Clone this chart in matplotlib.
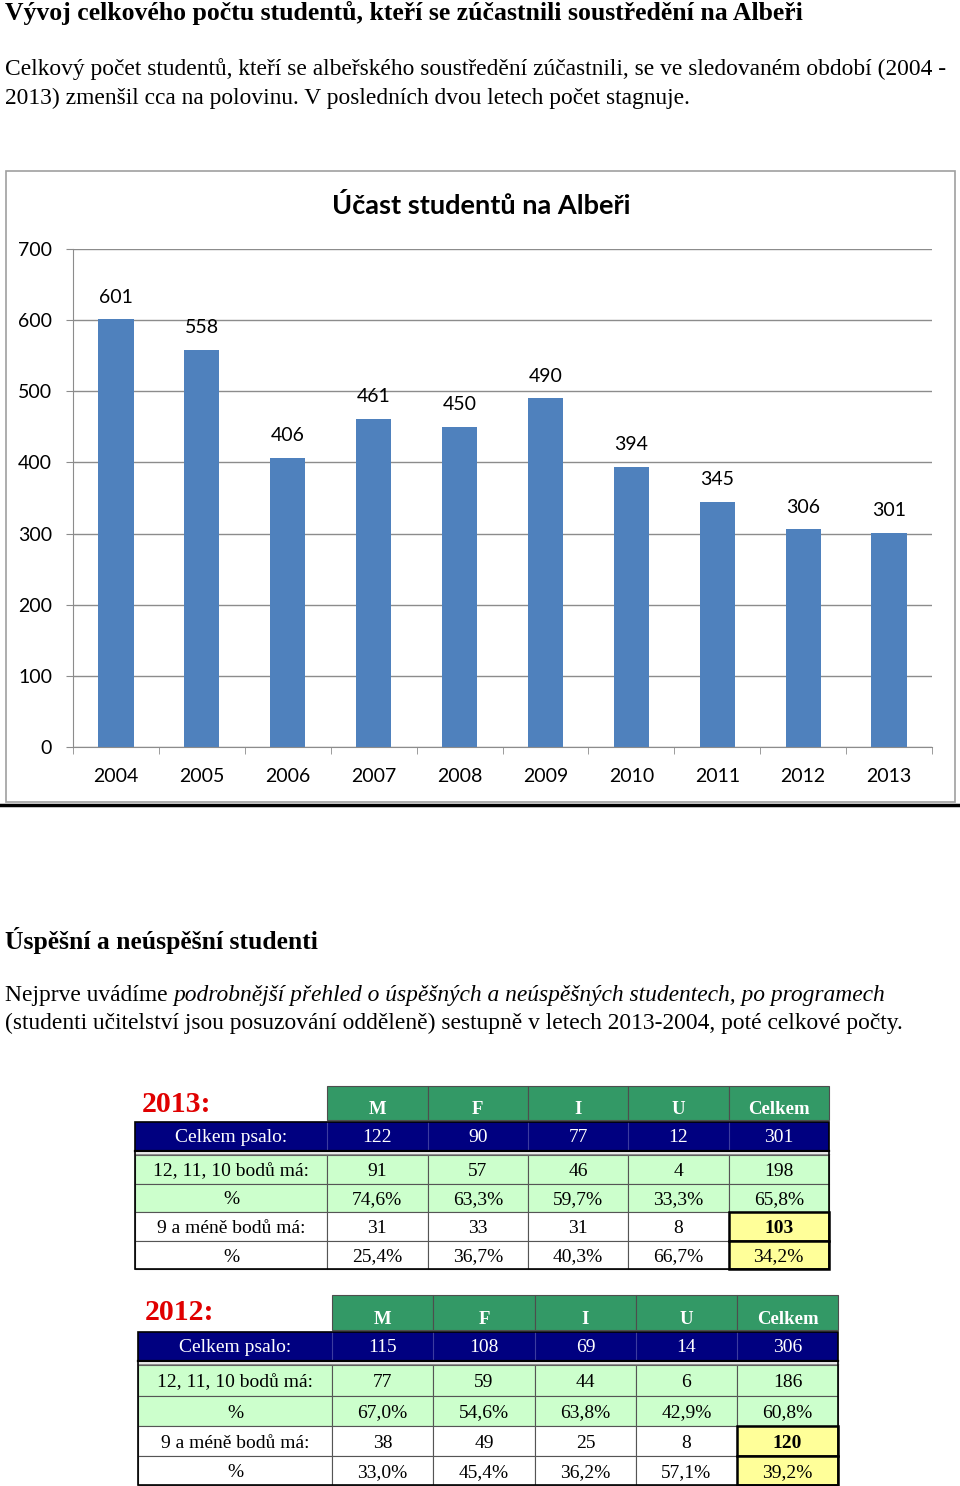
import matplotlib
matplotlib.use('Agg')
import matplotlib.pyplot as plt
from matplotlib.patches import Rectangle

W, H = 960, 1486
SERIF = ['Liberation Serif', 'DejaVu Serif']
SANS = ['Lato', 'Open Sans', 'DejaVu Sans']

BAR_BLUE = '#4F81BD'
GRID_GREY = '#8C8C8C'
HEAD_GREEN = '#339966'
NAVY = '#000080'
LIGHT_GREEN = '#CCFFCC'
YELLOW = '#FFFF99'
RED = '#E00000'

# ── Data ──────────────────────────────────────────────────────────────────────
years = [2004, 2005, 2006, 2007, 2008, 2009, 2010, 2011, 2012, 2013]
students = [601, 558, 406, 461, 450, 490, 394, 345, 306, 301]

programs = ['M', 'F', 'I', 'U', 'Celkem']
row_labels = ['Celkem psalo:', '12, 11, 10 bodů má:', '%', '9 a méně bodů má:', '%']

total_2013 = [122, 90, 77, 12, 301]
pass_2013 = [91, 57, 46, 4, 198]
pass_pct_2013 = [74.6, 63.3, 59.7, 33.3, 65.8]
fail_2013 = [31, 33, 31, 8, 103]
fail_pct_2013 = [25.4, 36.7, 40.3, 66.7, 34.2]

total_2012 = [115, 108, 69, 14, 306]
pass_2012 = [77, 59, 44, 6, 186]
pass_pct_2012 = [67.0, 54.6, 63.8, 42.9, 60.8]
fail_2012 = [38, 49, 25, 8, 120]
fail_pct_2012 = [33.0, 45.4, 36.2, 57.1, 39.2]

fig = plt.figure(figsize=(W / 100, H / 100), dpi=100)
bg = fig.add_axes([0, 0, 1, 1])
bg.set_xlim(0, W)
bg.set_ylim(H, 0)
bg.axis('off')
renderer = fig.canvas.get_renderer()


def fitted_text(x, y, s, width, **kw):
    """Draw text starting at x and scale its size so it is `width` px wide."""
    t = bg.text(x, y, s, fontsize=12, va='center', ha='left', **kw)
    w = t.get_window_extent(renderer=renderer).width
    t.set_fontsize(12 * width / w)
    return t


def pct(v):
    return f'{v:.1f}%'.replace('.', ',')


# ── Page text ────────────────────────────────────────────────────────────────
fitted_text(5, 13, 'Vývoj celkového počtu studentů, kteří se zúčastnili soustředění na Albeři',
            795, family=SERIF, weight='bold')
t1 = fitted_text(5, 69, 'Celkový počet studentů, kteří se albeřského soustředění zúčastnili, '
                        'se ve sledovaném období (2004 -', 942, family=SERIF)
bg.text(5, 98, '2013) zmenšil cca na polovinu. V posledních dvou letech počet stagnuje.',
        fontsize=t1.get_fontsize(), va='center', family=SERIF)

fitted_text(5, 941, 'Úspěšní a neúspěšní studenti', 311, family=SERIF, weight='bold')
t2 = fitted_text(5, 1023, '(studenti učitelství jsou posuzování odděleně) sestupně v letech '
                          '2013-2004, poté celkové počty.', 898, family=SERIF)
fs = t2.get_fontsize()
t3 = bg.text(5, 995, 'Nejprve uvádíme ', fontsize=fs, va='center', family=SERIF)
w3 = t3.get_window_extent(renderer=renderer).width
bg.text(5 + w3, 995, 'podrobnější přehled o úspěšných a neúspěšných studentech, po programech',
        fontsize=fs, va='center', family=SERIF, style='italic')

# ── Chart ────────────────────────────────────────────────────────────────────
bg.add_patch(Rectangle((6, 171), 949, 631, fill=False, edgecolor='#A0A0A0', lw=1.2))
bg.plot([0, W], [805, 805], color='black', lw=2.5)
bg.text(481, 206, 'Účast studentů na Albeři', ha='center', va='center',
        fontsize=19.5, weight='bold', family=SANS)

ax = fig.add_axes([73 / W, 1 - 747 / H, 859 / W, 498 / H])
x = list(range(len(years)))
ax.bar(x, students, width=0.41, color=BAR_BLUE, zorder=2)
ax.set_xlim(-0.5, len(years) - 0.5)
ax.set_ylim(0, 700)
ax.set_yticks(range(0, 701, 100))
ax.yaxis.grid(True, color=GRID_GREY, lw=1)
ax.set_axisbelow(True)
for s in ['top', 'right']:
    ax.spines[s].set_visible(False)
for s in ['left', 'bottom']:
    ax.spines[s].set_color(GRID_GREY)
ax.set_xticks(x)
ax.set_xticklabels([str(y) for y in years], family=SANS, fontsize=14)
ax.set_xticks([i - 0.5 for i in range(len(years) + 1)], minor=True)
ax.tick_params(axis='x', which='major', length=0, pad=15)
ax.tick_params(axis='x', which='minor', length=5, color=GRID_GREY)
ax.tick_params(axis='y', length=5, color=GRID_GREY, pad=10)
for lab in ax.get_yticklabels():
    lab.set_family(SANS)
    lab.set_fontsize(14)
for xi, v in zip(x, students):
    ax.annotate(str(v), (xi, v), xytext=(0, 16), textcoords='offset points',
                ha='center', va='center', fontsize=14, family=SANS)


# ── Tables ───────────────────────────────────────────────────────────────────
def draw_table(year, label_left, col_edges, head, blue, rows, data):
    total, passed, pass_pct, failed, fail_pct = data
    right = col_edges[-1]
    label_mid = (label_left + col_edges[0]) / 2
    fsz = 14

    bg.text(label_left + 7, head[0] + 18, f'{year}:', color=RED, fontsize=21.5,
            weight='bold', family=SERIF, va='center')

    # header row
    for i, name in enumerate(programs):
        x0, x1 = col_edges[i], col_edges[i + 1]
        bg.add_patch(Rectangle((x0, head[0]), x1 - x0, head[1] - head[0],
                               facecolor=HEAD_GREEN, edgecolor='#4D4D4D', lw=0.8))
        bg.text((x0 + x1) / 2, head[1] - 10, name, color='white', fontsize=13.5,
                weight='bold', family=SERIF, ha='center', va='center')

    # navy "Celkem psalo" row
    bg.add_patch(Rectangle((label_left, blue[0]), right - label_left, blue[1] - blue[0],
                           facecolor=NAVY, edgecolor='none'))
    for xe in col_edges[:-1]:
        bg.plot([xe, xe], blue, color='#3C3CA0', lw=0.8)
    bg.plot([label_left, right], [blue[1] + 0.5] * 2, color='black', lw=1.6)
    bg.plot([label_left, right], [blue[1] + 3.5] * 2, color='#909090', lw=1)
    ymid = (blue[0] + blue[1]) / 2 + 2
    bg.text(label_mid, ymid, row_labels[0], color='white', fontsize=fsz,
            family=SERIF, ha='center', va='center')
    for i, v in enumerate(total):
        bg.text((col_edges[i] + col_edges[i + 1]) / 2, ymid, str(v), color='white',
                fontsize=fsz, family=SERIF, ha='center', va='center')

    # body rows
    body = [
        [str(v) for v in passed],
        [pct(v) for v in pass_pct],
        [str(v) for v in failed],
        [pct(v) for v in fail_pct],
    ]
    edges = [label_left] + col_edges
    for r, vals in enumerate(body):
        y0, y1 = rows[r], rows[r + 1]
        face = LIGHT_GREEN if r < 2 else 'white'
        for c in range(len(edges) - 1):
            bg.add_patch(Rectangle((edges[c], y0), edges[c + 1] - edges[c], y1 - y0,
                                   facecolor=face, edgecolor='#555555', lw=0.8))
        ym = (y0 + y1) / 2 + 2
        bg.text(label_mid, ym, row_labels[r + 1], fontsize=fsz, family=SERIF,
                ha='center', va='center', zorder=4)
        for i, s in enumerate(vals):
            bold = (r == 2 and i == len(vals) - 1)
            bg.text((col_edges[i] + col_edges[i + 1]) / 2, ym, s, fontsize=fsz,
                    family=SERIF, ha='center', va='center', zorder=4,
                    weight='bold' if bold else 'normal')

    # yellow highlighted cells
    for r in (2, 3):
        bg.add_patch(Rectangle((col_edges[-2], rows[r]), right - col_edges[-2],
                               rows[r + 1] - rows[r], facecolor=YELLOW,
                               edgecolor='black', lw=1.8, zorder=2))
    bg.add_patch(Rectangle((label_left, blue[0]), right - label_left, rows[-1] - blue[0],
                           fill=False, edgecolor='black', lw=1.2, zorder=3))


draw_table(2013, 135, [327, 427.5, 528, 628, 728.5, 829], (1086, 1120), (1122, 1150),
           [1155, 1184, 1212, 1241, 1269],
           (total_2013, pass_2013, pass_pct_2013, fail_2013, fail_pct_2013))
draw_table(2012, 138, [332, 433, 535, 636, 737, 838], (1295, 1330), (1332, 1360),
           [1365, 1396, 1426, 1456, 1485],
           (total_2012, pass_2012, pass_pct_2012, fail_2012, fail_pct_2012))

fig.savefig('out.png', dpi=100)
